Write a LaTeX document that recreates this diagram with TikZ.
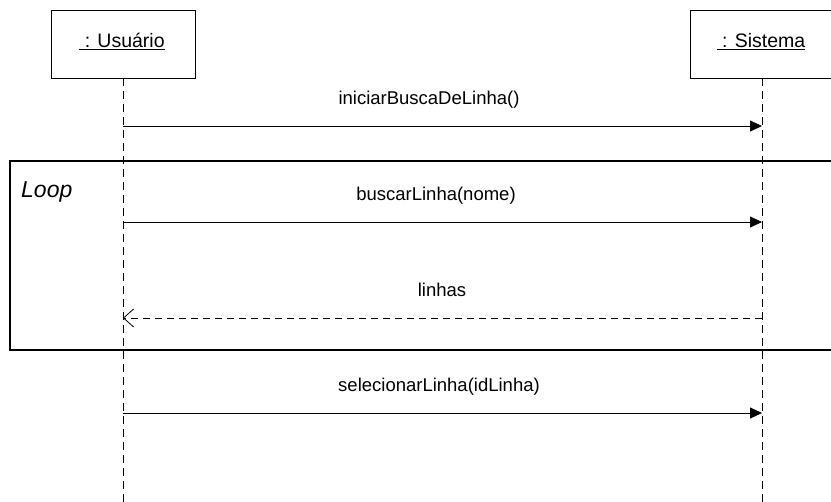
\documentclass[tikz,border=0pt]{standalone}
\usepackage{fontspec}
\setmainfont{Liberation Sans}
\usetikzlibrary{arrows.meta}
\begin{document}
\begin{tikzpicture}[x=1pt,y=-1pt,
  objbox/.style={draw, line width=0.8pt, minimum width=144pt, minimum height=68pt, inner sep=0pt},
  objtxt/.style={font=\fontsize{19.5}{21}\selectfont, anchor=base, inner sep=0pt},
  lifeline/.style={line width=0.8pt, dash pattern=on 8pt off 5pt},
  msg/.style={line width=0.8pt, -{Triangle[length=12pt,width=11pt]}},
  ret/.style={line width=0.8pt, dash pattern=on 7pt off 5pt, -{Straight Barb[length=10pt,width=18pt,line width=0.8pt]}},
  lbl/.style={font=\fontsize{18.5}{20}\selectfont, anchor=base, inner sep=0pt}]
\useasboundingbox (0,0) rectangle (831,502);
\node[objbox] (u) at (123,44) {};
\node[objbox] (s) at (762,44) {};
\node[objtxt] (ut) at (122,48) {\underline{\ : Usuário}};
\node[objtxt] (st) at (761,48) {\underline{\ : Sistema}};
\coordinate (ue) at (123,502);
\coordinate (se) at (762,502);
\draw[lifeline] (u.south) -- (ue);
\draw[lifeline] (s.south) -- (se);
% loop frame
\draw[line width=1.4pt] (845,161) -- (10,161) -- (10,350) -- (845,350);
\node[font=\fontsize{23}{26}\selectfont\itshape, anchor=base west, inner sep=0pt] (loop) at (21,198) {Loop};
% messages
\coordinate (u1) at (123,126); \coordinate (s1) at (762,126);
\coordinate (u2) at (123,222); \coordinate (s2) at (762,222);
\coordinate (u3) at (123,318); \coordinate (s3) at (762,318);
\coordinate (u4) at (123,413); \coordinate (s4) at (762,413);
\draw[msg] (u1) -- (s1);
\draw[msg] (u2) -- (s2);
\draw[ret] (s3) -- (u3);
\draw[msg] (u4) -- (s4);
\node[lbl] (m1) at (429,105) {iniciarBuscaDeLinha()};
\node[lbl] (m2) at (436,201) {buscarLinha(nome)};
\node[lbl] (m3) at (442,297) {linhas};
\node[lbl] (m4) at (439,392) {selecionarLinha(idLinha)};
\end{tikzpicture}
\end{document}
